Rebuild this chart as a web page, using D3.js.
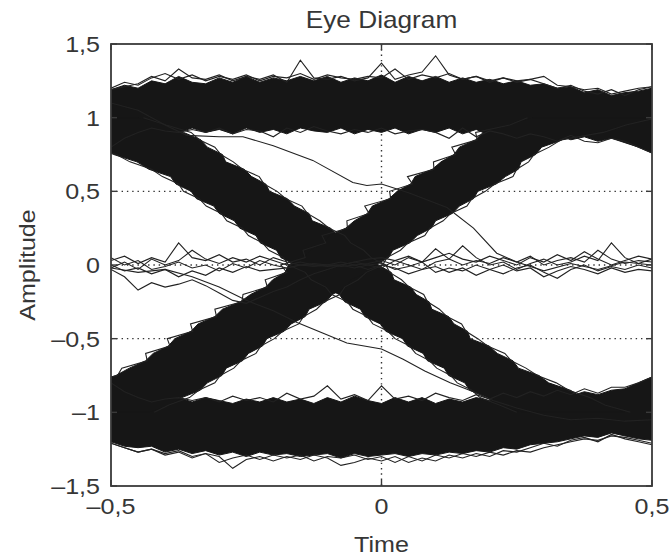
<!DOCTYPE html>
<html>
<head>
<meta charset="utf-8">
<script src="https://cdn.jsdelivr.net/npm/d3@7"></script>
<style>
  html, body { margin: 0; padding: 0; background: #fff; }
  svg { display: block; font-family: "Liberation Sans", Arial, sans-serif; }
</style>
</head>
<body>
<svg id="chart" width="672" height="559"></svg>
<script>
// ---- values ----
const xTickValues = [-0.5, 0, 0.5];
const xTickLabels = ["–0,5", "0", "0,5"];
const yTickValues = [-1.5, -1, -0.5, 0, 0.5, 1, 1.5];
const yTickLabels = ["–1,5", "–1", "–0,5", "0", "0,5", "1", "1,5"];
const gridY = [-1, -0.5, 0, 0.5, 1];
const gridX = [0];

// common time grid of the sampled traces
const sampleTime = [-0.5,-0.475,-0.45,-0.425,-0.4,-0.375,-0.35,-0.325,-0.3,-0.275,-0.25,-0.225,-0.2,-0.175,-0.15,-0.125,-0.1,-0.075,-0.05,-0.025,0,
  0.025,0.05,0.075,0.1,0.125,0.15,0.175,0.2,0.225,0.25,0.275,0.3,0.325,0.35,0.375,0.4,0.425,0.45,0.475,0.5];

// "1" level band (outer and inner edge)
const highTop = [1.19,1.22,1.20,1.25,1.23,1.28,1.24,1.23,1.27,1.24,1.28,1.24,1.27,1.25,1.28,1.25,1.28,1.24,1.27,1.25,1.29,
  1.24,1.28,1.25,1.28,1.24,1.27,1.24,1.26,1.23,1.25,1.22,1.23,1.20,1.21,1.17,1.19,1.15,1.17,1.18,1.20];
const highBottom = [0.77,0.83,0.87,0.90,0.92,0.90,0.93,0.90,0.92,0.89,0.93,0.90,0.92,0.89,0.93,0.91,0.90,0.93,0.89,0.92,0.90,
  0.93,0.89,0.92,0.90,0.93,0.89,0.92,0.88,0.91,0.87,0.90,0.86,0.88,0.85,0.87,0.84,0.86,0.83,0.80,0.76];
// "-1" level band
const lowTop = [-0.77,-0.83,-0.87,-0.90,-0.92,-0.90,-0.93,-0.90,-0.92,-0.94,-0.91,-0.93,-0.90,-0.93,-0.91,-0.94,-0.90,-0.93,-0.89,-0.92,-0.94,
  -0.90,-0.93,-0.90,-0.94,-0.91,-0.93,-0.90,-0.92,-0.89,-0.91,-0.88,-0.90,-0.87,-0.89,-0.86,-0.88,-0.85,-0.84,-0.80,-0.76];
const lowBottom = [-1.20,-1.23,-1.24,-1.23,-1.27,-1.25,-1.28,-1.26,-1.29,-1.27,-1.30,-1.27,-1.29,-1.28,-1.30,-1.29,-1.28,-1.31,-1.28,-1.30,-1.29,
  -1.28,-1.30,-1.28,-1.29,-1.27,-1.28,-1.26,-1.27,-1.24,-1.25,-1.22,-1.21,-1.20,-1.18,-1.16,-1.17,-1.14,-1.16,-1.18,-1.19];

// transition bands: time of the left / right edge at each amplitude
const edgeAmp = [1.0,0.95,0.9,0.85,0.8,0.75,0.7,0.65,0.6,0.55,0.5,0.45,0.4,0.35,0.3,0.25,0.2,0.15,0.1,0.05,0.0,
  -0.05,-0.1,-0.15,-0.2,-0.25,-0.3,-0.35,-0.4,-0.45,-0.5,-0.55,-0.6,-0.65,-0.7,-0.75,-0.8,-0.85,-0.9,-0.95,-1.0];
const fallLeft  = [-0.70,-0.655,-0.598,-0.57,-0.527,-0.495,-0.452,-0.43,-0.39,-0.38,-0.352,-0.342,-0.31,-0.30,-0.272,-0.262,-0.232,-0.224,-0.194,-0.186,-0.158,
  -0.146,-0.116,-0.107,-0.078,-0.068,-0.039,-0.031,-0.002,0.008,0.039,0.048,0.077,0.085,0.116,0.124,0.154,0.163,0.196,0.214,0.26];
const fallRight = [-0.45,-0.395,-0.366,-0.334,-0.322,-0.294,-0.288,-0.254,-0.24,-0.214,-0.207,-0.174,-0.161,-0.134,-0.128,-0.094,-0.082,-0.054,-0.047,-0.016,-0.006,
  0.018,0.023,0.054,0.064,0.088,0.093,0.124,0.134,0.159,0.164,0.199,0.214,0.243,0.253,0.291,0.309,0.349,0.371,0.416,0.45];
const riseLeft  = [0.28,0.234,0.188,0.174,0.144,0.134,0.11,0.094,0.062,0.054,0.029,0.014,-0.017,-0.026,-0.05,-0.066,-0.096,-0.106,-0.131,-0.144,-0.172,
  -0.178,-0.201,-0.214,-0.242,-0.261,-0.294,-0.308,-0.339,-0.352,-0.382,-0.394,-0.422,-0.436,-0.466,-0.491,-0.534,-0.561,-0.604,-0.636,-0.68];
const riseRight = [0.50,0.455,0.396,0.335,0.296,0.285,0.258,0.253,0.229,0.212,0.178,0.17,0.144,0.131,0.10,0.092,0.066,0.052,0.021,0.013,-0.012,
  -0.025,-0.057,-0.065,-0.091,-0.103,-0.134,-0.141,-0.167,-0.18,-0.212,-0.22,-0.246,-0.257,-0.287,-0.295,-0.322,-0.335,-0.369,-0.39,-0.43];

// stray traces hugging the transition edges (same amplitude levels)
const fallLeftFuzz  = [-0.715,-0.65,-0.612,-0.566,-0.54,-0.49,-0.465,-0.425,-0.405,-0.375,-0.366,-0.337,-0.324,-0.296,-0.286,-0.257,-0.246,-0.22,-0.208,-0.181,-0.172,
  -0.141,-0.13,-0.103,-0.092,-0.063,-0.053,-0.026,-0.016,0.012,0.025,0.052,0.063,0.089,0.102,0.128,0.14,0.167,0.182,0.218,0.25];
const fallRightFuzz = [-0.44,-0.398,-0.352,-0.337,-0.308,-0.297,-0.274,-0.257,-0.226,-0.217,-0.193,-0.177,-0.147,-0.137,-0.114,-0.097,-0.068,-0.057,-0.033,-0.019,0.008,
  0.015,0.037,0.051,0.078,0.085,0.107,0.121,0.148,0.156,0.178,0.196,0.228,0.24,0.267,0.288,0.323,0.346,0.385,0.413,0.46];
const riseLeftFuzz  = [0.27,0.237,0.174,0.177,0.13,0.137,0.096,0.097,0.048,0.057,0.015,0.017,-0.031,-0.023,-0.064,-0.063,-0.11,-0.103,-0.145,-0.141,-0.186,
  -0.175,-0.215,-0.211,-0.256,-0.258,-0.308,-0.305,-0.353,-0.349,-0.396,-0.391,-0.436,-0.433,-0.48,-0.488,-0.548,-0.558,-0.618,-0.633,-0.69];
const riseRightFuzz = [0.51,0.452,0.41,0.332,0.31,0.282,0.272,0.25,0.243,0.209,0.192,0.167,0.158,0.128,0.114,0.089,0.08,0.049,0.035,0.01,0.002,
  -0.028,-0.043,-0.068,-0.077,-0.106,-0.12,-0.144,-0.153,-0.183,-0.198,-0.223,-0.232,-0.26,-0.273,-0.298,-0.308,-0.338,-0.355,-0.393,-0.42];

// thin traces that stay near zero
const zeroA = [0.03,0.06,0.01,0.05,0.02,0.15,0.05,0.03,0.07,0.02,0.04,0.00,0.05,0.02,0.00,0.01,0.00,0.02,0.00,0.01,0.03,
  0.00,0.05,0.02,0.11,0.04,0.00,0.03,0.01,0.05,0.02,0.06,0.00,0.03,0.05,0.02,0.10,0.04,0.01,0.03,0.02];
const zeroB = [-0.02,0.02,-0.03,0.04,0.00,0.03,0.10,0.04,0.01,0.05,0.02,0.06,0.03,0.00,0.02,0.00,-0.01,0.00,0.02,0.00,-0.02,
  0.03,0.00,-0.03,0.02,0.04,0.13,0.05,0.00,0.02,-0.03,0.01,0.04,0.00,0.02,0.06,0.03,0.15,0.05,0.01,0.04];
const zeroC = [0.05,0.00,0.03,-0.03,-0.01,0.02,-0.02,0.00,-0.04,0.01,-0.02,0.03,0.00,-0.02,0.00,-0.01,0.00,0.00,-0.02,0.00,0.01,
  -0.03,-0.01,0.02,-0.05,-0.02,-0.04,0.00,-0.03,-0.06,-0.02,0.00,-0.05,-0.09,-0.03,0.00,-0.04,-0.01,-0.03,0.00,-0.02];
const zeroD = [0.00,-0.04,-0.02,-0.06,-0.03,-0.08,-0.04,-0.07,-0.02,-0.05,-0.01,-0.04,-0.03,-0.02,0.00,0.00,0.00,-0.01,0.00,-0.03,0.00,
  -0.02,-0.06,-0.03,-0.01,-0.05,-0.02,-0.07,-0.03,0.00,-0.04,-0.02,-0.08,-0.04,-0.01,-0.03,-0.06,-0.02,-0.05,-0.03,-0.04];
const zeroE = [-0.03,-0.08,-0.17,-0.12,-0.15,-0.13,-0.10,-0.14,-0.19,-0.24,-0.26,-0.22,-0.18,-0.15,-0.10,-0.06,-0.03,0.00,0.02,0.04,0.05,
  0.03,0.06,0.02,0.05,0.08,0.04,0.02,0.06,0.03,0.00,0.05,0.02,0.07,0.03,0.09,0.04,0.00,0.03,0.06,0.04];

// outliers along the level-band edges
const spikeTop = [1.19,1.21,1.23,1.28,1.25,1.33,1.27,1.26,1.29,1.25,1.28,1.26,1.29,1.24,1.39,1.27,1.26,1.28,1.25,1.27,1.37,
  1.26,1.29,1.31,1.42,1.29,1.26,1.28,1.24,1.27,1.25,1.26,1.23,1.20,1.22,1.18,1.16,1.19,1.15,1.19,1.21];
const spikeTop2 = [1.20,1.24,1.22,1.27,1.30,1.26,1.29,1.25,1.28,1.26,1.29,1.25,1.28,1.27,1.30,1.26,1.29,1.27,1.26,1.28,1.27,
  1.33,1.26,1.29,1.27,1.30,1.26,1.28,1.25,1.27,1.24,1.26,1.28,1.22,1.21,1.19,1.20,1.16,1.18,1.20,1.21];
const spikeBottom = [-1.21,-1.24,-1.27,-1.25,-1.29,-1.27,-1.31,-1.28,-1.30,-1.38,-1.32,-1.30,-1.33,-1.30,-1.32,-1.29,-1.31,-1.36,-1.34,-1.31,-1.33,
  -1.30,-1.34,-1.31,-1.33,-1.29,-1.31,-1.28,-1.30,-1.26,-1.27,-1.24,-1.21,-1.23,-1.19,-1.17,-1.20,-1.15,-1.18,-1.20,-1.22];
const spikeBottom2 = [-1.21,-1.24,-1.27,-1.25,-1.28,-1.26,-1.30,-1.28,-1.34,-1.31,-1.29,-1.32,-1.29,-1.31,-1.29,-1.33,-1.30,-1.31,-1.29,-1.32,-1.30,
  -1.34,-1.30,-1.33,-1.29,-1.31,-1.28,-1.30,-1.27,-1.29,-1.26,-1.27,-1.24,-1.22,-1.20,-1.18,-1.19,-1.16,-1.17,-1.19,-1.21];
const spikeInnerHigh = [0.80,0.86,0.90,0.93,0.91,0.90,0.92,0.90,0.93,0.89,0.92,0.91,0.87,0.93,0.90,0.94,0.91,0.89,0.92,0.90,0.93,
  0.89,0.91,0.92,0.90,0.86,0.93,0.87,0.91,0.89,0.86,0.89,0.87,0.84,0.88,0.84,0.83,0.86,0.84,0.80,0.76];
const spikeInnerLow = [-0.80,-0.86,-0.90,-0.93,-0.91,-0.90,-0.92,-0.90,-0.93,-0.89,-0.92,-0.90,-0.93,-0.87,-0.91,-0.89,-0.82,-0.91,-0.88,-0.92,-0.82,
  -0.91,-0.89,-0.92,-0.87,-0.90,-0.92,-0.88,-0.91,-0.87,-0.90,-0.86,-0.89,-0.85,-0.88,-0.84,-0.87,-0.83,-0.83,-0.80,-0.76];

// two slow traces crossing the eye
const loneHighTime = [-0.5,-0.45,-0.4,-0.36,-0.3,-0.256,-0.2,-0.127,-0.053,-0.027,0.0,0.05,0.121,0.17,0.213,0.25,0.3,0.35,0.4,0.45,0.5];
const loneHighAmp  = [1.1,1.05,0.95,0.88,0.87,0.87,0.81,0.71,0.56,0.54,0.55,0.49,0.39,0.25,0.08,0.02,-0.04,0.01,-0.03,0.02,0.0];
const loneLowTime = [-0.5,-0.45,-0.4,-0.35,-0.3,-0.25,-0.2,-0.156,-0.11,-0.064,0.0,0.04,0.08,0.127,0.17,0.206,0.25,0.3,0.35,0.4,0.45,0.5];
const loneLowAmp  = [-0.02,-0.05,-0.03,-0.08,-0.15,-0.24,-0.31,-0.39,-0.46,-0.53,-0.57,-0.64,-0.72,-0.80,-0.86,-0.92,-0.97,-1.02,-1.05,-1.04,-1.06,-1.05];

// ---- drawing ----
const svg = d3.select("#chart");
const plot = { left: 111, right: 652, top: 44, bottom: 486 };
const ink = "#161616";
const textColor = "#363636";

const x = d3.scaleLinear().domain([-0.5, 0.5]).range([plot.left, plot.right]);
const y = d3.scaleLinear().domain([-1.5, 1.5]).range([plot.bottom, plot.top]);

svg.append("defs").append("clipPath").attr("id", "plotClip")
  .append("rect")
  .attr("x", plot.left).attr("y", plot.top)
  .attr("width", plot.right - plot.left).attr("height", plot.bottom - plot.top);

// dotted grid under the data
const grid = svg.append("g")
  .attr("stroke", "#333").attr("stroke-width", 1.4).attr("stroke-dasharray", "1.4 3.9");
grid.selectAll("line.gy").data(gridY).enter().append("line")
  .attr("x1", plot.left).attr("x2", plot.right)
  .attr("y1", d => y(d)).attr("y2", d => y(d));
grid.selectAll("line.gx").data(gridX).enter().append("line")
  .attr("y1", plot.top).attr("y2", plot.bottom)
  .attr("x1", d => x(d)).attr("x2", d => x(d));

const data = svg.append("g").attr("clip-path", "url(#plotClip)");

// level bands
const levelArea = d3.area()
  .x(d => x(d.t)).y0(d => y(d.lo)).y1(d => y(d.hi));
const highBand = sampleTime.map((t, i) => ({ t: t, lo: highBottom[i], hi: highTop[i] }));
const lowBand = sampleTime.map((t, i) => ({ t: t, lo: lowBottom[i], hi: lowTop[i] }));
[highBand, lowBand].forEach(band => {
  data.append("path").datum(band).attr("d", levelArea)
    .attr("fill", ink).attr("stroke", ink).attr("stroke-width", 1);
});

// transition bands (areas running along the amplitude axis)
const transArea = d3.area()
  .y(d => y(d.a)).x0(d => x(d.l)).x1(d => x(d.r));
const fallBand = edgeAmp.map((a, i) => ({ a: a, l: fallLeft[i], r: fallRight[i] }));
const riseBand = edgeAmp.map((a, i) => ({ a: a, l: riseLeft[i], r: riseRight[i] }));
[fallBand, riseBand].forEach(band => {
  data.append("path").datum(band).attr("d", transArea)
    .attr("fill", ink).attr("stroke", ink).attr("stroke-width", 1);
});

// thin traces
const traceLine = d3.line().x(d => x(d[0])).y(d => y(d[1]));
function drawTrace(points) {
  data.append("path")
    .datum(points)
    .attr("d", traceLine)
    .attr("fill", "none").attr("stroke", "#222").attr("stroke-width", 1.1);
}
[fallLeftFuzz, fallRightFuzz, riseLeftFuzz, riseRightFuzz].forEach(ts => {
  drawTrace(edgeAmp.map((a, i) => [ts[i], a]));
});
[zeroA, zeroB, zeroC, zeroD, zeroE, spikeTop, spikeTop2, spikeBottom, spikeBottom2, spikeInnerHigh, spikeInnerLow].forEach(vals => {
  drawTrace(sampleTime.map((t, i) => [t, vals[i]]));
});
drawTrace(loneHighTime.map((t, i) => [t, loneHighAmp[i]]));
drawTrace(loneLowTime.map((t, i) => [t, loneLowAmp[i]]));

// frame and inward ticks
const frame = svg.append("g").attr("stroke", "#3a3a3a").attr("fill", "none");
frame.append("rect")
  .attr("x", plot.left).attr("y", plot.top)
  .attr("width", plot.right - plot.left).attr("height", plot.bottom - plot.top)
  .attr("stroke-width", 1.8);
const tickLen = 6;
yTickValues.forEach(v => {
  frame.append("line").attr("x1", plot.left).attr("x2", plot.left + tickLen)
    .attr("y1", y(v)).attr("y2", y(v)).attr("stroke-width", 1.4);
  frame.append("line").attr("x1", plot.right).attr("x2", plot.right - tickLen)
    .attr("y1", y(v)).attr("y2", y(v)).attr("stroke-width", 1.4);
});
xTickValues.forEach(v => {
  frame.append("line").attr("x1", x(v)).attr("x2", x(v))
    .attr("y1", plot.bottom).attr("y2", plot.bottom - tickLen).attr("stroke-width", 1.4);
  frame.append("line").attr("x1", x(v)).attr("x2", x(v))
    .attr("y1", plot.top).attr("y2", plot.top + tickLen).attr("stroke-width", 1.4);
});

// text (the source font runs a little wider than Arial)
const labels = svg.append("g").attr("fill", textColor).attr("font-size", 22);
function addText(str, px, py, anchor, angle, size) {
  const t = labels.append("text")
    .attr("transform", `translate(${px},${py}) rotate(${angle || 0}) scale(1.14,1)`)
    .attr("text-anchor", anchor)
    .text(str);
  if (size) t.attr("font-size", size);
}
yTickValues.forEach((v, i) => addText(yTickLabels[i], 100, y(v) + 8, "end"));
xTickValues.forEach((v, i) => addText(xTickLabels[i], x(v), 514, "middle"));
addText("Eye Diagram", (plot.left + plot.right) / 2, 28, "middle", 0, 23);
addText("Time", (plot.left + plot.right) / 2, 552, "middle");
addText("Amplitude", 35, (plot.top + plot.bottom) / 2, "middle", -90);
</script>
</body>
</html>
